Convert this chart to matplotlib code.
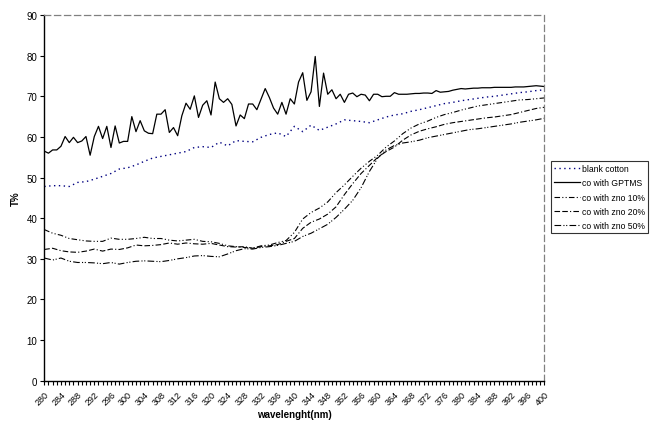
import matplotlib
matplotlib.use("Agg")
import matplotlib.pyplot as plt
import numpy as np

plt.rcParams['font.family'] = ['Liberation Sans', 'DejaVu Sans']

# ---- data ----
wl_fine = list(range(280, 401))
gptms = [56.5, 56.0, 56.8, 56.8, 57.7, 60.1, 58.6, 59.9, 58.6, 59.0,
         60.1, 55.5, 60.1, 62.6, 59.6, 62.6, 57.4, 62.7, 58.5, 58.9,
         58.9, 65.0, 61.3, 64.0, 61.5, 60.9, 60.8, 65.6, 65.6, 66.7,
         61.1, 62.3, 60.3, 65.2, 68.3, 66.8, 70.1, 64.8, 67.8, 68.9,
         65.4, 73.5, 69.4, 68.5, 69.4, 68.0, 62.7, 65.4, 64.5, 68.1,
         68.1, 66.7, 69.3, 71.9, 69.7, 67.1, 65.6, 68.5, 65.6, 69.4,
         68.1, 73.5, 75.8, 69.0, 71.1, 79.8, 67.5, 75.7, 70.5, 71.6,
         69.4, 70.5, 68.5, 70.5, 70.8, 69.9, 70.5, 70.3, 68.9, 70.5,
         70.5, 69.9, 70.0, 70.0, 70.9, 70.5, 70.5, 70.5, 70.6, 70.7,
         70.7, 70.8, 70.8, 70.7, 71.4, 71.0, 71.1, 71.2, 71.5, 71.7,
         71.9, 71.8, 71.9, 72.0, 72.0, 72.1, 72.1, 72.1, 72.2, 72.2,
         72.2, 72.2, 72.2, 72.3, 72.3, 72.3, 72.4, 72.5, 72.6, 72.5,
         72.4]

wl = list(range(280, 401, 2))
blank = [47.8, 48.0, 48.0, 47.8, 48.8, 49.0, 49.6, 50.3, 51.0, 52.1,
         52.4, 53.1, 54.0, 54.8, 55.2, 55.6, 56.0, 56.4, 57.4, 57.6,
         57.4, 58.7, 57.8, 59.1, 58.9, 58.8, 59.9, 60.6, 61.0, 60.1,
         62.6, 61.3, 62.9, 61.6, 62.4, 63.2, 64.2, 64.0, 63.8, 63.5,
         64.2, 64.9, 65.4, 65.7, 66.3, 66.7, 67.2, 67.7, 68.2, 68.5,
         68.9, 69.2, 69.5, 69.8, 70.0, 70.3, 70.6, 70.9, 71.1, 71.4,
         71.6]
zno10 = [37.2, 36.3, 35.8, 35.0, 34.7, 34.4, 34.3, 34.3, 35.1, 34.8,
         34.8, 35.0, 35.3, 35.0, 35.0, 34.6, 34.4, 34.6, 34.8, 34.3,
         34.2, 33.8, 33.2, 33.0, 32.8, 32.6, 33.2, 33.4, 34.0, 34.5,
         36.5, 39.8, 41.4, 42.5, 44.0, 46.3, 48.2, 50.3, 52.3, 54.0,
         55.5, 57.5, 59.0, 60.8, 62.2, 63.2, 63.9, 64.8, 65.5, 66.0,
         66.6, 67.1, 67.6, 67.9, 68.2, 68.5, 68.8, 69.1, 69.2, 69.4,
         69.6]
zno20 = [32.3, 32.6, 32.0, 31.7, 31.6, 31.9, 32.4, 31.9, 32.4, 32.3,
         32.7, 33.4, 33.2, 33.3, 33.5, 33.9, 33.6, 33.9, 33.7, 33.6,
         33.8, 33.4, 33.0, 32.9, 33.0, 32.6, 33.0, 33.2, 33.5, 34.3,
         35.0, 37.5, 39.0, 39.8, 41.0, 42.8, 45.8, 48.5, 51.0, 53.0,
         55.0, 56.4, 57.5, 59.2, 60.5, 61.4, 62.0, 62.5, 63.1, 63.5,
         63.8, 64.1, 64.4, 64.7, 64.9, 65.2, 65.5, 66.0, 66.5, 67.0,
         67.3]
zno50 = [30.2, 29.7, 30.2, 29.4, 29.1, 29.1, 29.0, 28.8, 29.1, 28.7,
         29.1, 29.4, 29.5, 29.4, 29.3, 29.6, 30.0, 30.3, 30.7, 30.8,
         30.6, 30.5, 31.2, 32.0, 32.5, 32.4, 32.8, 33.0, 33.3, 33.8,
         34.3, 35.5, 36.3, 37.4, 38.5, 40.2, 42.2, 44.4, 47.5, 51.5,
         54.8, 56.8, 57.9, 58.5, 58.8, 59.2, 59.8, 60.2, 60.6, 61.0,
         61.4, 61.8, 62.0, 62.3, 62.6, 62.9, 63.2, 63.6, 63.9, 64.2,
         64.6]
tick_labels = [str(v) for v in range(280, 401, 4)]

# ---- figure ----
fig = plt.figure(figsize=(6.56, 4.27), dpi=100)
ax = fig.add_axes([0.0675, 0.106, 0.7625, 0.8565])

ax.plot(wl, blank, color='#000080', lw=1.0, linestyle=(0, (1, 2.5)), label='blank cotton')
ax.plot(wl_fine, gptms, color='black', lw=0.9, linestyle='-', label='co with GPTMS')
ax.plot(wl, zno10, color='black', lw=0.8, linestyle=(0, (5, 2, 1, 2, 1, 2)), label='co with zno 10%')
ax.plot(wl, zno20, color='black', lw=0.8, linestyle=(0, (5, 2, 5, 2, 1, 2)), label='co with zno 20%')
ax.plot(wl, zno50, color='black', lw=0.8, linestyle=(0, (6, 2, 1, 1.5, 1, 2)), label='co with zno 50%')

ax.set_xlim(280, 400)
ax.set_ylim(0, 90)
ax.set_yticks(range(0, 91, 10))
ax.set_xticks(range(280, 401, 4))
ax.set_xticklabels(tick_labels, rotation=45, ha='right', rotation_mode='anchor')
ax.set_xticks(range(280, 401, 1), minor=True)
ax.tick_params(axis='x', which='both', direction='out', length=3, width=0.8, labelsize=6.5, pad=3)
ax.tick_params(axis='y', which='major', direction='out', length=3, width=0.8, labelsize=7, pad=2)

for s in ['left', 'bottom']:
    ax.spines[s].set_color('black')
    ax.spines[s].set_linewidth(1.0)
for s in ['top', 'right']:
    ax.spines[s].set_color('#808080')
    ax.spines[s].set_linewidth(0.9)
    ax.spines[s].set_linestyle((0, (5, 3)))

ax.set_ylabel('T%', fontsize=7, fontweight='bold', labelpad=4)
ax.set_xlabel('wavelenght(nm)', fontsize=7, fontweight='bold', labelpad=2)

leg = fig.legend(loc='upper left', bbox_to_anchor=(0.84, 0.62), fontsize=6.2,
                 frameon=True, fancybox=False, edgecolor='black', borderpad=0.35,
                 handlelength=3.0, handletextpad=0.2, labelspacing=0.6, borderaxespad=0)
leg.get_frame().set_linewidth(0.8)

fig.savefig('out.png', dpi=100)
